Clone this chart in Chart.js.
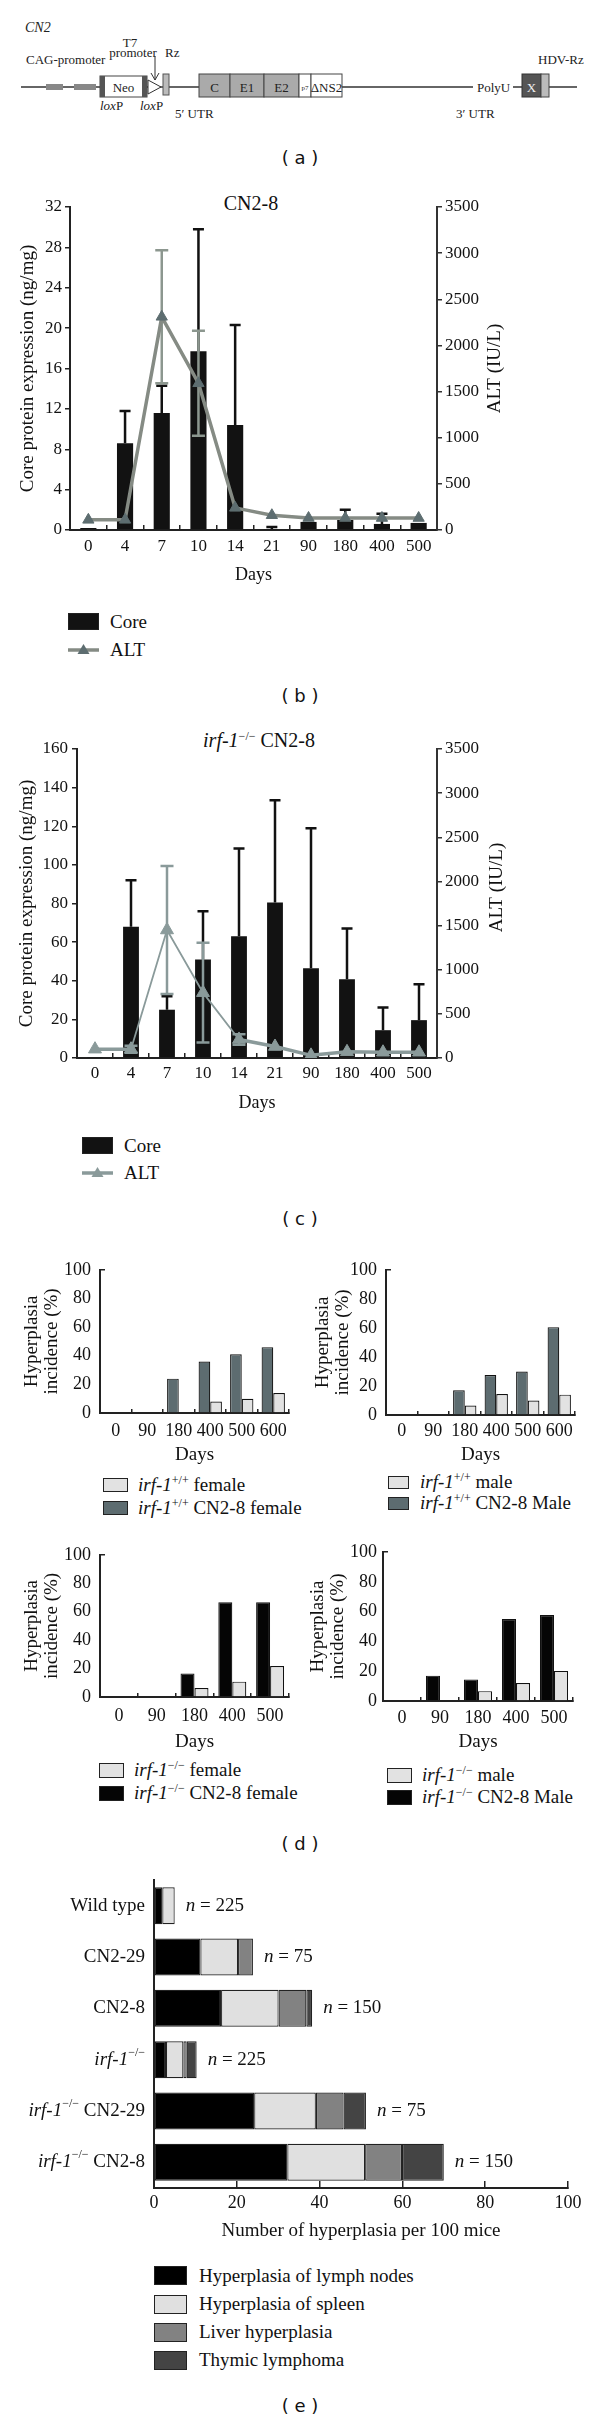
<!DOCTYPE html>
<html>
<head>
<meta charset="utf-8">
<title>CN2 transgenic mice figure</title>
<script src="https://cdn.jsdelivr.net/npm/chart.js@4.4.1/dist/chart.umd.min.js"></script>
<style>
  body { margin: 0; background: #fff; }
  #page { position: relative; width: 600px; height: 2422px; overflow: hidden;
          font-family: "Liberation Serif", "Times New Roman", serif; color: #111; }
  canvas { position: absolute; }
  .abs { position: absolute; white-space: nowrap; }
  .panel { position: absolute; transform: translate(-50%, -50%); font-family: "DejaVu Sans", sans-serif;
           font-size: 18px; white-space: pre; }
  .ctr { position: absolute; transform: translate(-50%, -50%); font-size: 20px; white-space: nowrap; }
  .leg { position: absolute; transform: translateY(-50%); font-size: 19px; line-height: 20px; white-space: nowrap; }
  .box { position: absolute; border: 1.2px solid #222; box-sizing: border-box; }
  sup { font-size: 12px; vertical-align: 7px; line-height: 0; }
</style>
</head>
<body>
<div id="page">

<!-- (a) construct map -->
<svg class="abs" style="left:0;top:0" width="600" height="135" font-family="Liberation Serif, serif" font-size="13" fill="#222">
  <text x="25" y="32" font-style="italic" font-size="14">CN2</text>
  <line x1="21" y1="87" x2="473" y2="87" stroke="#333" stroke-width="1.3"/>
  <line x1="513" y1="87" x2="577" y2="87" stroke="#333" stroke-width="1.3"/>
  <rect x="46" y="84" width="17" height="6" fill="#888"/>
  <rect x="74" y="84" width="22" height="6" fill="#888"/>
  <rect x="100" y="76" width="47" height="21" fill="#fff" stroke="#444"/>
  <rect x="100" y="76" width="5" height="21" fill="#555"/>
  <rect x="142" y="76" width="5" height="21" fill="#555"/>
  <text x="123.5" y="91.5" text-anchor="middle">Neo</text>
  <polygon points="148,80 161,87 148,94" fill="#fff" stroke="#333"/>
  <line x1="155" y1="56" x2="155" y2="80" stroke="#333"/>
  <polyline points="151,73 155,80 159,73" fill="none" stroke="#333"/>
  <rect x="163" y="74" width="6" height="21" fill="#bbb" stroke="#555"/>
  <rect x="199" y="74" width="31" height="23" fill="#aaa" stroke="#444"/>
  <rect x="230" y="74" width="34" height="23" fill="#aaa" stroke="#444"/>
  <rect x="264" y="74" width="35" height="23" fill="#aaa" stroke="#444"/>
  <rect x="299" y="74" width="12" height="23" fill="#fff" stroke="#444"/>
  <rect x="311" y="74" width="31" height="23" fill="#fff" stroke="#444"/>
  <text x="214.5" y="91.5" text-anchor="middle">C</text>
  <text x="247" y="91.5" text-anchor="middle">E1</text>
  <text x="281.5" y="91.5" text-anchor="middle">E2</text>
  <text x="305" y="90" text-anchor="middle" font-size="7">p7</text>
  <text x="326.5" y="91.5" text-anchor="middle">ΔNS2</text>
  <rect x="522" y="74" width="19" height="23" fill="#555" stroke="#333"/>
  <rect x="541" y="74" width="8" height="23" fill="#bbb" stroke="#444"/>
  <text x="531.5" y="91.5" text-anchor="middle" fill="#eee">X</text>
  <text x="26" y="63.5">CAG-promoter</text>
  <text x="130" y="46.5" text-anchor="middle">T7</text>
  <text x="133" y="56.5" text-anchor="middle">promoter</text>
  <text x="165" y="56.5">Rz</text>
  <text x="100" y="109.5"><tspan font-style="italic">lox</tspan>P</text>
  <text x="140" y="109.5"><tspan font-style="italic">lox</tspan>P</text>
  <text x="175" y="117.5">5′ UTR</text>
  <text x="477" y="91.5">PolyU</text>
  <text x="456" y="117.5">3′ UTR</text>
  <text x="538" y="63.5">HDV-Rz</text>
</svg>
<div class="panel" style="left:300px;top:157px">( a )</div>

<!-- (b) -->
<div class="ctr" style="left:251px;top:203px">CN2-8</div>
<canvas id="chartB" width="600" height="410" style="left:0;top:180px"></canvas>
<div class="box" style="left:68px;top:613px;width:31px;height:17px;background:#121212"></div>
<div class="leg" style="left:110px;top:622px">Core</div>
<svg class="abs" style="left:65px;top:640px" width="37" height="20">
  <line x1="3" y1="10" x2="34" y2="10" stroke="#858b84" stroke-width="3.5"/>
  <polygon points="18.5,4 24.5,14 12.5,14" fill="#5d6d70"/>
</svg>
<div class="leg" style="left:110px;top:650px">ALT</div>
<div class="panel" style="left:300px;top:695px">( b )</div>

<!-- (c) -->
<div class="ctr" style="left:259px;top:740px"><i>irf-1</i><sup>−/−</sup> CN2-8</div>
<canvas id="chartC" width="600" height="398" style="left:0;top:720px"></canvas>
<div class="box" style="left:82px;top:1137px;width:31px;height:17px;background:#121212"></div>
<div class="leg" style="left:124px;top:1146px">Core</div>
<svg class="abs" style="left:79px;top:1163px" width="37" height="20">
  <line x1="3" y1="10" x2="34" y2="10" stroke="#8a9a9a" stroke-width="3.5"/>
  <polygon points="18.5,4 24.5,14 12.5,14" fill="#8a9a9a"/>
</svg>
<div class="leg" style="left:124px;top:1173px">ALT</div>
<div class="panel" style="left:300px;top:1218px">( c )</div>

<!-- (d) -->
<canvas id="chartD1" width="300" height="225" style="left:0;top:1245px"></canvas>
<canvas id="chartD2" width="300" height="225" style="left:300px;top:1245px"></canvas>
<div class="box" style="left:103px;top:1478px;width:25px;height:14px;background:#e2e2e2"></div>
<div class="leg" style="left:138px;top:1485px"><i>irf-1</i><sup>+/+</sup> female</div>
<div class="box" style="left:103px;top:1501px;width:25px;height:14px;background:#5d6c70"></div>
<div class="leg" style="left:138px;top:1508px"><i>irf-1</i><sup>+/+</sup> CN2-8 female</div>
<div class="box" style="left:388px;top:1476px;width:21px;height:13px;background:#e2e2e2"></div>
<div class="leg" style="left:420px;top:1482px"><i>irf-1</i><sup>+/+</sup> male</div>
<div class="box" style="left:388px;top:1497px;width:21px;height:13px;background:#5d6c70"></div>
<div class="leg" style="left:420px;top:1503px"><i>irf-1</i><sup>+/+</sup> CN2-8 Male</div>

<canvas id="chartD3" width="300" height="227" style="left:0;top:1530px"></canvas>
<canvas id="chartD4" width="300" height="227" style="left:300px;top:1530px"></canvas>
<div class="box" style="left:99px;top:1763px;width:25px;height:15px;background:#e2e2e2"></div>
<div class="leg" style="left:134px;top:1770px"><i>irf-1</i><sup>−/−</sup> female</div>
<div class="box" style="left:99px;top:1786px;width:25px;height:15px;background:#050505"></div>
<div class="leg" style="left:134px;top:1793px"><i>irf-1</i><sup>−/−</sup> CN2-8 female</div>
<div class="box" style="left:387px;top:1768px;width:25px;height:15px;background:#e2e2e2"></div>
<div class="leg" style="left:422px;top:1775px"><i>irf-1</i><sup>−/−</sup> male</div>
<div class="box" style="left:387px;top:1790px;width:25px;height:15px;background:#050505"></div>
<div class="leg" style="left:422px;top:1797px"><i>irf-1</i><sup>−/−</sup> CN2-8 Male</div>
<div class="panel" style="left:300px;top:1843px">( d )</div>

<!-- (e) -->
<canvas id="chartE" width="600" height="376" style="left:0;top:1870px"></canvas>
<div class="box" style="left:154px;top:2266px;width:33px;height:19px;background:#000"></div>
<div class="leg" style="left:199px;top:2276px">Hyperplasia of lymph nodes</div>
<div class="box" style="left:154px;top:2295px;width:33px;height:19px;background:#e0e0e0"></div>
<div class="leg" style="left:199px;top:2304px">Hyperplasia of spleen</div>
<div class="box" style="left:154px;top:2323px;width:33px;height:19px;background:#828282"></div>
<div class="leg" style="left:199px;top:2332px">Liver hyperplasia</div>
<div class="box" style="left:154px;top:2351px;width:33px;height:19px;background:#444"></div>
<div class="leg" style="left:199px;top:2360px">Thymic lymphoma</div>
<div class="panel" style="left:300px;top:2405px">( e )</div>

</div>

<script>
// time course, (b) CN2-8 and (c) irf-1-/- CN2-8
const days = ['0', '4', '7', '10', '14', '21', '90', '180', '400', '500'];
const coreB = [0.2, 8.6, 11.6, 17.7, 10.4, 0.1, 0.8, 1.0, 0.6, 0.7];
const coreErrB = [0, 3.2, 2.7, 12.1, 9.9, 0.2, 0, 1.0, 1.0, 0];
const altB = [110, 110, 2310, 1590, 240, 160, 130, 130, 130, 130];
const altErrB = [0, 0, 720, 570, 0, 0, 0, 0, 0, 0];
const coreC = [0.5, 68, 25, 51, 63, 80.5, 46.5, 40.8, 14.4, 19.6];
const coreErrC = [0, 24, 7, 25, 45.5, 53, 72.5, 26.2, 11.8, 18.6];
const altC = [100, 100, 1450, 740, 210, 130, 30, 70, 65, 65];
const altErrC = [0, 40, 725, 565, 60, 0, 0, 0, 0, 0];

// (d) hyperplasia incidence (%)
const daysD6 = ['0', '90', '180', '400', '500', '600'];
const daysD5 = ['0', '90', '180', '400', '500'];
const wtFemaleCN = [0, 0, 24, 36, 41, 46];
const wtFemale = [0, 0, 0, 8, 10, 14];
const wtMaleCN = [0, 0, 17, 27.5, 30, 60.5];
const wtMale = [0, 0, 6.5, 14.5, 10, 14];
const koFemaleCN = [0, 0, 16.6, 66.7, 66.7];
const koFemale = [0, 0, 6.3, 10.8, 21.8];
const koMaleCN = [0, 17, 14.5, 55, 57.7];
const koMale = [0, 0, 6.6, 12, 20.2];

// (e) number of hyperplasia per 100 mice
const groups = ['Wild type', 'CN2-29', 'CN2-8', 'irf-1−/−', 'irf-1−/− CN2-29', 'irf-1−/− CN2-8'];
const lymph = [2, 11.2, 16.2, 2.9, 24.2, 32.2];
const spleen = [3, 9.1, 13.9, 4.2, 14.9, 18.8];
const liver = [0, 3.6, 6.7, 0.8, 6.7, 8.9];
const thymic = [0, 0, 1.4, 2.4, 5.4, 10.1];
const groupN = [225, 75, 150, 225, 75, 150];

const SERIF = '"Liberation Serif", "Times New Roman", serif';
Chart.defaults.font.family = SERIF;
Chart.defaults.color = '#111';
Chart.defaults.animation = false;
Chart.defaults.plugins.legend.display = false;
Chart.defaults.plugins.tooltip.enabled = false;

const AXIS = '#222';
const plain = v => String(v);

// error bars: bars get only the upper whisker, ALT points get both
function drawErrors(chart, index, both) {
  const ds = chart.data.datasets[index];
  const meta = chart.getDatasetMeta(index);
  const scale = chart.scales[meta.yAxisID];
  const ctx = chart.ctx;
  ctx.save();
  ctx.strokeStyle = ds.errorColor;
  ctx.lineWidth = ds.errorWidth;
  meta.data.forEach((el, j) => {
    const e = ds.errors[j];
    if (!e) return;
    const v = ds.data[j];
    const yHi = scale.getPixelForValue(v + e);
    const yLo = scale.getPixelForValue(both ? Math.max(v - e, 0) : v);
    const c = ds.capWidth / 2;
    ctx.beginPath();
    ctx.moveTo(el.x, yLo); ctx.lineTo(el.x, yHi);
    ctx.moveTo(el.x - c, yHi); ctx.lineTo(el.x + c, yHi);
    if (both) { ctx.moveTo(el.x - c, yLo); ctx.lineTo(el.x + c, yLo); }
    ctx.stroke();
  });
  ctx.restore();
}

const errorBars = {
  id: 'errorBars',
  beforeDatasetDraw(chart, args) {
    const ds = chart.data.datasets[args.index];
    if (ds.type === 'line' && ds.errors) drawErrors(chart, args.index, true);
  },
  afterDatasetDraw(chart, args) {
    const ds = chart.data.datasets[args.index];
    if (ds.type !== 'line' && ds.errors) drawErrors(chart, args.index, false);
  }
};

// right axis title reads bottom to top like the left one
const altTitle = {
  id: 'altTitle',
  afterDraw(chart, args, opts) {
    const s = chart.scales.y1, ctx = chart.ctx;
    ctx.save();
    ctx.font = '19px ' + SERIF;
    ctx.fillStyle = '#111';
    ctx.textAlign = 'center';
    ctx.textBaseline = 'middle';
    ctx.translate(s.right - 15, (s.top + s.bottom) / 2 + (opts.dy || 0));
    ctx.rotate(-Math.PI / 2);
    ctx.fillText('ALT (IU/L)', 0, 0);
    ctx.restore();
  }
};

function timeCourse(id, o) {
  return new Chart(document.getElementById(id), {
    type: 'bar',
    data: {
      labels: days,
      datasets: [
        {
          label: 'ALT', type: 'line', data: o.alt, yAxisID: 'y1', order: 0,
          borderColor: o.lineColor, borderWidth: 3.5, segment: o.segment,
          pointStyle: 'triangle', pointRadius: o.pointRadius,
          pointBackgroundColor: o.pointColor, pointBorderColor: o.pointColor, pointBorderWidth: 1,
          errors: o.altErr, errorColor: o.altErrColor, errorWidth: 2.5, capWidth: 13
        },
        {
          label: 'Core', data: o.core, yAxisID: 'y', order: 1, backgroundColor: '#121212',
          categoryPercentage: 0.44, barPercentage: 1,
          errors: o.coreErr, errorColor: '#111', errorWidth: 2.5, capWidth: 11
        }
      ]
    },
    options: {
      responsive: false,
      layout: { padding: o.padding },
      scales: {
        x: {
          grid: { drawOnChartArea: false, tickLength: -5, color: AXIS, lineWidth: 1.5 },
          border: { color: AXIS, width: 2 },
          ticks: { font: { size: 17 }, padding: o.xPad, maxRotation: 0, autoSkip: false },
          title: { display: true, text: 'Days', font: { size: 18 } },
          afterFit: s => { s.height = o.xH; }
        },
        y: {
          position: 'left', min: 0, max: o.coreMax,
          ticks: { stepSize: o.coreStep, font: { size: 17 }, padding: o.yPad, callback: plain },
          grid: { drawOnChartArea: false, tickLength: 5, color: AXIS, lineWidth: 1.5 },
          border: { color: AXIS, width: 2 },
          title: { display: true, text: 'Core protein expression (ng/mg)', font: { size: 19 } },
          afterFit: s => { s.width = o.yW; }
        },
        y1: {
          position: 'right', min: 0, max: 3500,
          ticks: { stepSize: 500, font: { size: 17 }, padding: 3, callback: plain },
          grid: { drawOnChartArea: false, tickLength: 5, color: '#333', lineWidth: 1.5 },
          border: { color: '#333', width: 2 },
          afterFit: s => { s.width = o.y1W; }
        }
      },
      plugins: { altTitle: { dy: o.altDy } }
    },
    plugins: [errorBars, altTitle]
  });
}

timeCourse('chartB', {
  core: coreB, coreErr: coreErrB, alt: altB, altErr: altErrB,
  coreMax: 32, coreStep: 4,
  lineColor: '#858b84', pointColor: '#5d6d70', pointRadius: 6.5, altErrColor: '#8c978f',
  padding: { top: 27, left: 13, right: 90, bottom: 0 }, yW: 57, y1W: 73, xH: 60, xPad: 11, yPad: 3, altDy: 0
});

timeCourse('chartC', {
  core: coreC, coreErr: coreErrC, alt: altC, altErr: altErrC,
  coreMax: 160, coreStep: 20,
  lineColor: '#8a9a9a', pointColor: '#8a9a9a', pointRadius: 7.5, altErrColor: '#8a9a9a',
  segment: { borderWidth: c => (c.p0DataIndex >= 1 && c.p0DataIndex <= 3) ? 1.8 : 3.5 },
  padding: { top: 29, left: 12, right: 88, bottom: 0 }, yW: 65, y1W: 75, xH: 60, xPad: 10, yPad: 4, altDy: -16
});

function incidence(id, labels, cn, ctrl, cnColor, o) {
  return new Chart(document.getElementById(id), {
    type: 'bar',
    data: {
      labels: labels,
      datasets: [
        { data: cn, backgroundColor: cnColor, borderColor: '#111', borderWidth: 1.2 },
        { data: ctrl, backgroundColor: '#e2e2e2', borderColor: '#111', borderWidth: 1.2 }
      ]
    },
    options: {
      responsive: false,
      layout: { padding: o.padding },
      datasets: { bar: { categoryPercentage: 0.74, barPercentage: 1 } },
      scales: {
        x: {
          grid: { drawOnChartArea: false, tickLength: -4, color: AXIS, lineWidth: 1.5 },
          border: { color: AXIS, width: 2 },
          ticks: { font: { size: 18 }, padding: o.xPad, maxRotation: 0, autoSkip: false },
          title: { display: true, text: 'Days', font: { size: 19 } },
          afterFit: s => { s.height = o.xH; }
        },
        y: {
          min: 0, max: 100,
          ticks: { stepSize: 20, font: { size: 18 }, padding: o.yPad },
          grid: {
            drawOnChartArea: false, tickLength: -5, lineWidth: 1.5,
            tickColor: c => (c.tick && c.tick.value === 100) ? AXIS : 'rgba(0,0,0,0)'
          },
          border: { color: AXIS, width: 2 },
          title: { display: true, text: ['Hyperplasia', 'incidence (%)'], font: { size: 19, lineHeight: 1.05 } },
          afterFit: s => { s.width = o.yW; }
        }
      }
    }
  });
}

incidence('chartD1', daysD6, wtFemaleCN, wtFemale, '#5d6c70',
  { padding: { top: 20, left: 18, right: 11, bottom: 0 }, yW: 82, xH: 57, xPad: 11, yPad: 14 });
incidence('chartD2', daysD6, wtMaleCN, wtMale, '#5d6c70',
  { padding: { top: 22, left: 9, right: 25, bottom: 0 }, yW: 77, xH: 55, xPad: 9, yPad: 14 });
incidence('chartD3', daysD5, koFemaleCN, koFemale, '#050505',
  { padding: { top: 19, left: 18, right: 11, bottom: 0 }, yW: 82, xH: 60, xPad: 12, yPad: 14 });
incidence('chartD4', daysD5, koMaleCN, koMale, '#050505',
  { padding: { top: 22, left: 4, right: 27, bottom: 0 }, yW: 79, xH: 56, xPad: 10, yPad: 11 });

// mixed italic / superscript text on the canvas
function richParts(label) {
  if (label.startsWith('irf-1')) {
    return [{ t: 'irf-1', it: true }, { t: '−/−', sup: true }, { t: label.slice(8) }];
  }
  return [{ t: label }];
}

function drawRich(ctx, parts, x, y, align) {
  const fontOf = p => (p.it ? 'italic ' : '') + (p.sup ? '12px ' : '19px ') + SERIF;
  let total = 0;
  parts.forEach(p => { ctx.font = fontOf(p); total += ctx.measureText(p.t).width; });
  let cx = align === 'right' ? x - total : x;
  parts.forEach(p => {
    ctx.font = fontOf(p);
    ctx.fillText(p.t, cx, p.sup ? y - 7 : y);
    cx += ctx.measureText(p.t).width;
  });
}

const groupLabels = {
  id: 'groupLabels',
  afterDraw(chart) {
    const ctx = chart.ctx, ys = chart.scales.y, xs = chart.scales.x;
    ctx.save();
    ctx.fillStyle = '#111';
    ctx.textBaseline = 'middle';
    groups.forEach((g, i) => {
      const py = ys.getPixelForValue(i);
      drawRich(ctx, richParts(g), chart.chartArea.left - 9, py, 'right');
      const total = lymph[i] + spleen[i] + liver[i] + thymic[i];
      drawRich(ctx, [{ t: 'n', it: true }, { t: ' = ' + groupN[i] }], xs.getPixelForValue(total) + 11, py, 'left');
    });
    ctx.restore();
  }
};

new Chart(document.getElementById('chartE'), {
  type: 'bar',
  data: {
    labels: groups,
    datasets: [
      { label: 'Hyperplasia of lymph nodes', data: lymph, backgroundColor: '#000' },
      { label: 'Hyperplasia of spleen', data: spleen, backgroundColor: '#e0e0e0' },
      { label: 'Liver hyperplasia', data: liver, backgroundColor: '#828282' },
      { label: 'Thymic lymphoma', data: thymic, backgroundColor: '#444' }
    ]
  },
  options: {
    indexAxis: 'y',
    responsive: false,
    layout: { padding: { top: 10, left: 0, right: 32, bottom: 0 } },
    datasets: { bar: { categoryPercentage: 0.72, barPercentage: 1, borderColor: '#222', borderWidth: 1.2, borderSkipped: false } },
    scales: {
      x: {
        stacked: true, min: 0, max: 100,
        ticks: { stepSize: 20, font: { size: 18 }, padding: 11 },
        grid: { drawOnChartArea: false, tickLength: -7, color: AXIS, lineWidth: 1.5 },
        border: { color: AXIS, width: 2 },
        title: { display: true, text: 'Number of hyperplasia per 100 mice', font: { size: 19 } },
        afterFit: s => { s.height = 58; }
      },
      y: {
        stacked: true,
        ticks: { display: false },
        grid: { display: false },
        border: { display: true, color: AXIS, width: 2 },
        afterFit: s => { s.width = 154; }
      }
    }
  },
  plugins: [groupLabels]
});
</script>
</body>
</html>
